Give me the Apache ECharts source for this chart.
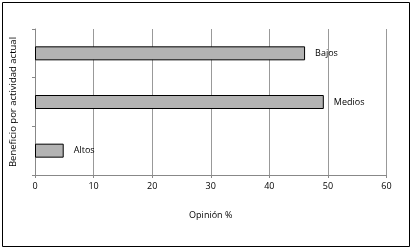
<!DOCTYPE html>
<html>
<head>
<meta charset="utf-8">
<script src="https://cdn.jsdelivr.net/npm/echarts@6/dist/echarts.min.js"></script>
<style>html,body{margin:0;padding:0;background:#fff;}#c{width:411px;height:249px;}</style>
</head>
<body>
<div id="c"></div>
<script>
var categories = ['Altos', 'Medios', 'Bajos'];
var values = [4.9, 49.3, 46.1];
var xTicks = [0, 10, 20, 30, 40, 50, 60];

var chart = echarts.init(document.getElementById('c'), null, {renderer: 'canvas'});
var font = 'Open Sans';
chart.setOption({
  animation: false,
  backgroundColor: '#fff',
  graphic: [{
    type: 'rect',
    shape: {x: 2.5, y: 2.5, width: 407, height: 244},
    style: {fill: 'none', stroke: '#000', lineWidth: 1}
  }],
  grid: {left: 35, right: 24.5, top: 29, bottom: 74, containLabel: false},
  xAxis: {
    type: 'value',
    min: xTicks[0], max: xTicks[xTicks.length - 1], interval: 10,
    name: 'Opinión %',
    nameLocation: 'middle',
    nameGap: 36,
    nameTextStyle: {fontFamily: font, fontSize: 9, color: '#000'},
    axisLine: {show: true, lineStyle: {color: '#888', width: 1}},
    axisTick: {show: true, length: 3, lineStyle: {color: '#888'}},
    axisLabel: {fontFamily: font, fontSize: 9, color: '#000', margin: 7},
    splitLine: {show: true, lineStyle: {color: '#999', width: 1}}
  },
  yAxis: {
    type: 'category',
    data: categories,
    name: 'Beneficio por actividad actual',
    nameLocation: 'middle',
    nameGap: 17,
    nameTextStyle: {fontFamily: font, fontSize: 9.5, color: '#000'},
    axisLine: {show: true, lineStyle: {color: '#888', width: 1}},
    axisTick: {show: true, length: 3, lineStyle: {color: '#888'}},
    axisLabel: {show: false},
    splitLine: {show: false}
  },
  series: [{
    type: 'bar',
    data: values,
    barWidth: 14,
    itemStyle: {color: '#b3b3b3', borderColor: '#000', borderWidth: 1},
    label: {
      show: true, position: 'right', distance: 10,
      formatter: '{b}',
      fontFamily: font, fontSize: 9, color: '#000'
    }
  }]
});
</script>
</body>
</html>
